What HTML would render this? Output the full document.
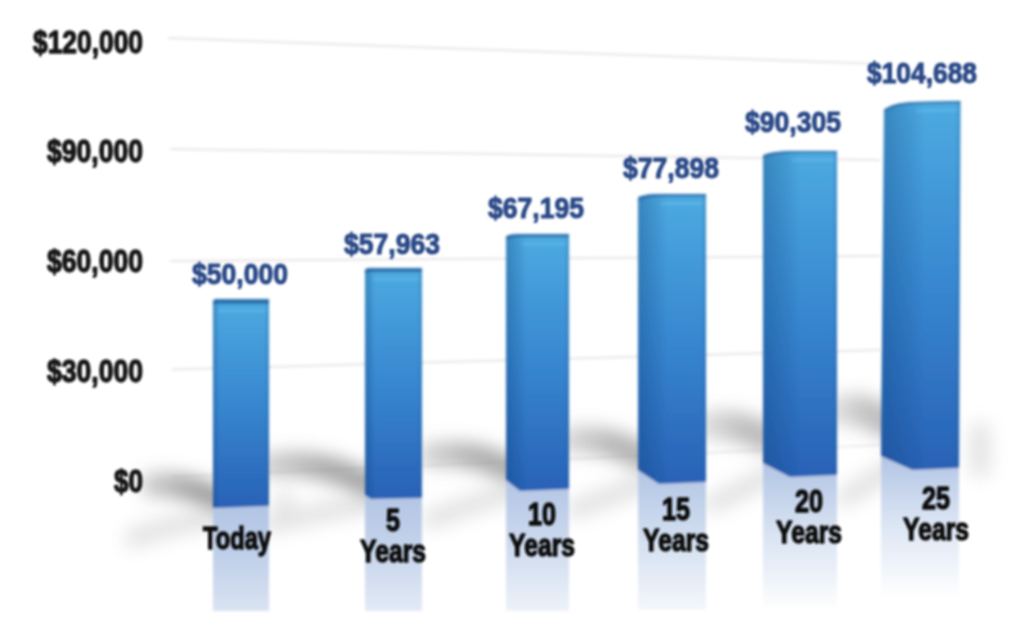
<!DOCTYPE html>
<html><head><meta charset="utf-8"><title>Chart</title>
<style>
html,body{margin:0;padding:0;background:#fff;}
body{width:1012px;height:630px;overflow:hidden;font-family:"Liberation Sans",sans-serif;}
svg{display:block}
text{font-family:"Liberation Sans",sans-serif;font-weight:bold;}
</style></head><body>
<svg width="1012" height="630" viewBox="0 0 1012 630">
<defs>
<filter id="soft" x="-5%" y="-5%" width="110%" height="110%"><feGaussianBlur stdDeviation="1.7"/></filter>
<filter id="tsoft" x="-5%" y="-20%" width="110%" height="140%"><feGaussianBlur stdDeviation="1.3"/></filter>
<filter id="sh" filterUnits="userSpaceOnUse" x="0" y="0" width="1012" height="630"><feGaussianBlur stdDeviation="8.5"/></filter>
<filter id="sh2" filterUnits="userSpaceOnUse" x="0" y="0" width="1012" height="630"><feGaussianBlur stdDeviation="9"/></filter>
<linearGradient id="dk" x1="0" y1="0" x2="1" y2="0"><stop offset="0" stop-color="#777" stop-opacity="0.55"/><stop offset="0.55" stop-color="#777" stop-opacity="0.95"/><stop offset="1" stop-color="#777" stop-opacity="1"/></linearGradient>
<linearGradient id="front" x1="0" y1="0" x2="0" y2="1">
<stop offset="0" stop-color="#4daae0"/><stop offset="0.5" stop-color="#3787d0"/><stop offset="1" stop-color="#2861b5"/></linearGradient>
<linearGradient id="sideov" x1="0" y1="0" x2="1" y2="0">
<stop offset="0" stop-color="#0a3c78" stop-opacity="0.33"/><stop offset="0.7" stop-color="#0a3c78" stop-opacity="0.11"/><stop offset="1" stop-color="#0a3c78" stop-opacity="0"/></linearGradient>
<linearGradient id="refl0" x1="0" y1="0" x2="0" y2="1"><stop offset="0" stop-color="#b2c5e4"/><stop offset="0.5" stop-color="#c0d0e9"/><stop offset="1" stop-color="#d9e3f2"/></linearGradient>
<linearGradient id="refl1" x1="0" y1="0" x2="0" y2="1"><stop offset="0" stop-color="#b2c5e4"/><stop offset="0.5" stop-color="#c6d4eb"/><stop offset="1" stop-color="#e3eaf6"/></linearGradient>
<linearGradient id="refl2" x1="0" y1="0" x2="0" y2="1"><stop offset="0" stop-color="#b2c5e4"/><stop offset="0.5" stop-color="#cddaee"/><stop offset="1" stop-color="#edf2f9"/></linearGradient>
<linearGradient id="refl3" x1="0" y1="0" x2="0" y2="1"><stop offset="0" stop-color="#b2c5e4"/><stop offset="0.5" stop-color="#d3dff0"/><stop offset="1" stop-color="#f4f7fb"/></linearGradient>
<linearGradient id="refl4" x1="0" y1="0" x2="0" y2="1"><stop offset="0" stop-color="#b2c5e4"/><stop offset="0.5" stop-color="#d9e3f2"/><stop offset="1" stop-color="#fcfdfe"/></linearGradient>
<linearGradient id="refl5" x1="0" y1="0" x2="0" y2="1"><stop offset="0" stop-color="#b2c5e4"/><stop offset="0.5" stop-color="#dde6f4"/><stop offset="1" stop-color="#ffffff"/></linearGradient>
</defs>
<rect width="1012" height="630" fill="#ffffff"/>

<g filter="url(#soft)" stroke="#e6e6e6" stroke-width="2" fill="none">
<path d="M168,38 L880,64"/>
<path d="M170,149 L880,160"/>
<path d="M170,261 L880,256"/>
<path d="M172,369.5 L880,350"/>
<path d="M172,477 L880,445" stroke="#ececec"/>
</g>
<g filter="url(#sh)" fill="none" stroke="url(#dk)" stroke-linecap="round">
<path d="M218,499 Q184,483 153,485" stroke-width="25" opacity="0.7"/>
<path d="M370,485 Q322,460 273,465" stroke-width="26" opacity="0.66"/>
<path d="M511,470 Q472,450 432,455" stroke-width="26" opacity="0.62"/>
<path d="M643,457 Q608,438 574,440" stroke-width="28" opacity="0.56"/>
<path d="M766,438 Q740,424 712,425" stroke-width="30" opacity="0.5"/>
<path d="M885,422 Q866,408 843,410" stroke-width="32" opacity="0.48"/>
</g>
<g filter="url(#sh2)" fill="none" stroke="#9a9a9a" stroke-linecap="round" opacity="0.27">
<path d="M218,518 Q180,522 134,538" stroke-width="20"/>
<path d="M370,503 Q322,512 272,523" stroke-width="20"/>
<path d="M511,492 Q472,504 432,519" stroke-width="20"/>
<path d="M643,484 Q610,496 576,509" stroke-width="20"/>
<path d="M768,476 Q742,490 714,503" stroke-width="20"/>
<path d="M888,470 Q868,484 846,497" stroke-width="20"/>
<path d="M980,432 L980,468" stroke-width="20"/>
<path d="M284,500 L284,516" stroke-width="18"/>
</g>
<g filter="url(#soft)">
<polygon points="213,508 216,508 269,506 269,611 213,611" fill="url(#refl0)"/>
<polygon points="365,495 371,499 422,498 422,611 365,611" fill="url(#refl1)"/>
<polygon points="506,480 520,491 569,489 569,611 506,611" fill="url(#refl2)"/>
<polygon points="638,470 659,484 706,482 706,610 638,610" fill="url(#refl3)"/>
<polygon points="763,463 790,477 837,475 837,606 763,606" fill="url(#refl4)"/>
<polygon points="881,456 912.5,470 959,468 959,598 881,598" fill="url(#refl5)"/>
<path d="M213,301.5 Q213,300 214.5,299.7 Q214.05,299.12 216,299 L267.5,299 Q269,299 269,300.5 L269,506 L216,508 L213,508 Z" fill="url(#front)"/>
<path d="M213,301.5 Q213,300 214.5,299.7 Q214.05,299.12 216,299 L218.9,299 L218.9,508 L216,508 L213,508 Z" fill="url(#sideov)"/>
<polygon points="266,299 269,299 269,506 266,506" fill="#1c5a9c" opacity="0.25"/>
<path d="M213,301.5 Q213,300 214.5,299.7 Q214.05,299.12 216,299 L269,299 L269,304 L216,304 Q214.05,304.12 213,306 Z" fill="#22609f" opacity="0.8"/>
<polygon points="218,309.5 266,309.5 266,312.5 218,312.5" fill="#66bdf0" opacity="0.5"/>
<path d="M365,270.5 Q365,269 366.5,268.7 Q367.1,268.12 371,268 L420.5,268 Q422,268 422,269.5 L422,498 L371,499 L365,495 Z" fill="url(#front)"/>
<path d="M365,270.5 Q365,269 366.5,268.7 Q367.1,268.12 371,268 L374.8,268 L374.8,499 L371,499 L365,495 Z" fill="url(#sideov)"/>
<polygon points="419,268 422,268 422,498 419,498" fill="#1c5a9c" opacity="0.25"/>
<path d="M365,270.5 Q365,269 366.5,268.7 Q367.1,268.12 371,268 L422,268 L422,272 L371,272 Q367.1,272.12 365,274 Z" fill="#22609f" opacity="0.8"/>
<polygon points="373,277.5 419,277.5 419,280.5 373,280.5" fill="#66bdf0" opacity="0.5"/>
<path d="M506,237.5 Q506,236 507.5,235.7 Q510.9,234.24 520,234 L567.5,234 Q569,234 569,235.5 L569,489 L520,491 L506,480 Z" fill="url(#front)"/>
<path d="M506,237.5 Q506,236 507.5,235.7 Q510.9,234.24 520,234 L526.2,234 L526.2,491 L520,491 L506,480 Z" fill="url(#sideov)"/>
<polygon points="566,234 569,234 569,489 566,489" fill="#1c5a9c" opacity="0.25"/>
<path d="M506,237.5 Q506,236 507.5,235.7 Q510.9,234.24 520,234 L569,234 L569,237 L520,237 Q510.9,237.24 506,240 Z" fill="#22609f" opacity="0.8"/>
<polygon points="522,242.5 566,242.5 566,245.5 522,245.5" fill="#66bdf0" opacity="0.5"/>
<path d="M638,198.5 Q638,197 639.5,196.7 Q645.35,194.36 659,194 L704.5,194 Q706,194 706,195.5 L706,482 L659,484 L638,470 Z" fill="url(#front)"/>
<path d="M638,198.5 Q638,197 639.5,196.7 Q645.35,194.36 659,194 L667.3,194 L667.3,484 L659,484 L638,470 Z" fill="url(#sideov)"/>
<polygon points="703,194 706,194 706,482 703,482" fill="#1c5a9c" opacity="0.25"/>
<path d="M638,198.5 Q638,197 639.5,196.7 Q645.35,194.36 659,194 L706,194 L706,196.5 L659,196.5 Q645.35,196.86 638,200.5 Z" fill="#22609f" opacity="0.8"/>
<polygon points="661,202.0 703,202.0 703,205.0 661,205.0" fill="#66bdf0" opacity="0.5"/>
<path d="M763,156.5 Q763,155 764.5,154.7 Q772.45,151.48 790,151 L835.5,151 Q837,151 837,152.5 L837,475 L790,477 L763,463 Z" fill="url(#front)"/>
<path d="M763,156.5 Q763,155 764.5,154.7 Q772.45,151.48 790,151 L800.1,151 L800.1,477 L790,477 L763,463 Z" fill="url(#sideov)"/>
<polygon points="834,151 837,151 837,475 834,475" fill="#1c5a9c" opacity="0.25"/>
<path d="M763,156.5 Q763,155 764.5,154.7 Q772.45,151.48 790,151 L837,151 L837,153 L790,153 Q772.45,153.48 763,158 Z" fill="#22609f" opacity="0.8"/>
<polygon points="792,158.5 834,158.5 834,161.5 792,161.5" fill="#66bdf0" opacity="0.5"/>
<path d="M884,110.5 Q884,109 885.5,108.7 Q894.5,102.84 914,102 L959.0,101 Q960.5,101 960.5,102.5 L959,468 L912.5,470 L881,456 Z" fill="url(#front)"/>
<path d="M884,110.5 Q884,109 885.5,108.7 Q894.5,102.84 914,102 L925.0,102 L923.5,470 L912.5,470 L881,456 Z" fill="url(#sideov)"/>
<polygon points="957.5,101 960.5,101 959,468 956,468" fill="#1c5a9c" opacity="0.25"/>
<path d="M884,110.5 Q884,109 885.5,108.7 Q894.5,102.84 914,102 L960.5,101 L960.5,103 L914,104 Q894.5,104.84 884,112 Z" fill="#22609f" opacity="0.8"/>
<polygon points="916,109.5 957.5,108.5 957.5,111.5 916,112.5" fill="#66bdf0" opacity="0.5"/>
</g>
<g filter="url(#tsoft)">
<text x="143" y="52.5" font-size="31.5" text-anchor="end" fill="#141414" stroke="#141414" stroke-width="1.3" stroke-linejoin="round" textLength="110" lengthAdjust="spacingAndGlyphs">$120,000</text>
<text x="143" y="161.5" font-size="31.5" text-anchor="end" fill="#141414" stroke="#141414" stroke-width="1.3" stroke-linejoin="round" textLength="96" lengthAdjust="spacingAndGlyphs">$90,000</text>
<text x="143" y="271.5" font-size="31.5" text-anchor="end" fill="#141414" stroke="#141414" stroke-width="1.3" stroke-linejoin="round" textLength="96" lengthAdjust="spacingAndGlyphs">$60,000</text>
<text x="143" y="381.5" font-size="31.5" text-anchor="end" fill="#141414" stroke="#141414" stroke-width="1.3" stroke-linejoin="round" textLength="96" lengthAdjust="spacingAndGlyphs">$30,000</text>
<text x="143" y="491.5" font-size="31.5" text-anchor="end" fill="#141414" stroke="#141414" stroke-width="1.3" stroke-linejoin="round" textLength="29" lengthAdjust="spacingAndGlyphs">$0</text>
<text x="240" y="283.5" font-size="30" text-anchor="middle" fill="#2b4a88" stroke="#2b4a88" stroke-width="1.05" stroke-linejoin="round" textLength="96" lengthAdjust="spacingAndGlyphs">$50,000</text>
<text x="392" y="253.5" font-size="30" text-anchor="middle" fill="#2b4a88" stroke="#2b4a88" stroke-width="1.05" stroke-linejoin="round" textLength="96" lengthAdjust="spacingAndGlyphs">$57,963</text>
<text x="536" y="217.5" font-size="30" text-anchor="middle" fill="#2b4a88" stroke="#2b4a88" stroke-width="1.05" stroke-linejoin="round" textLength="96" lengthAdjust="spacingAndGlyphs">$67,195</text>
<text x="671" y="178.0" font-size="30" text-anchor="middle" fill="#2b4a88" stroke="#2b4a88" stroke-width="1.05" stroke-linejoin="round" textLength="96" lengthAdjust="spacingAndGlyphs">$77,898</text>
<text x="793" y="131.5" font-size="30" text-anchor="middle" fill="#2b4a88" stroke="#2b4a88" stroke-width="1.05" stroke-linejoin="round" textLength="96" lengthAdjust="spacingAndGlyphs">$90,305</text>
<text x="922" y="82.5" font-size="30" text-anchor="middle" fill="#2b4a88" stroke="#2b4a88" stroke-width="1.05" stroke-linejoin="round" textLength="110" lengthAdjust="spacingAndGlyphs">$104,688</text>
<text x="237" y="548.5" font-size="32" text-anchor="middle" fill="#111111" stroke="#111111" stroke-width="1.4" stroke-linejoin="round" textLength="68" lengthAdjust="spacingAndGlyphs">Today</text>
<text x="393" y="530.5" font-size="32" text-anchor="middle" fill="#111111" stroke="#111111" stroke-width="1.4" stroke-linejoin="round" textLength="14" lengthAdjust="spacingAndGlyphs">5</text>
<text x="393" y="562" font-size="32" text-anchor="middle" fill="#111111" stroke="#111111" stroke-width="1.4" stroke-linejoin="round" textLength="66" lengthAdjust="spacingAndGlyphs">Years</text>
<text x="542" y="524.5" font-size="32" text-anchor="middle" fill="#111111" stroke="#111111" stroke-width="1.4" stroke-linejoin="round" textLength="28" lengthAdjust="spacingAndGlyphs">10</text>
<text x="542" y="556" font-size="32" text-anchor="middle" fill="#111111" stroke="#111111" stroke-width="1.4" stroke-linejoin="round" textLength="66" lengthAdjust="spacingAndGlyphs">Years</text>
<text x="676" y="519.5" font-size="32" text-anchor="middle" fill="#111111" stroke="#111111" stroke-width="1.4" stroke-linejoin="round" textLength="28" lengthAdjust="spacingAndGlyphs">15</text>
<text x="676" y="551" font-size="32" text-anchor="middle" fill="#111111" stroke="#111111" stroke-width="1.4" stroke-linejoin="round" textLength="66" lengthAdjust="spacingAndGlyphs">Years</text>
<text x="809" y="511.5" font-size="32" text-anchor="middle" fill="#111111" stroke="#111111" stroke-width="1.4" stroke-linejoin="round" textLength="28" lengthAdjust="spacingAndGlyphs">20</text>
<text x="809" y="543" font-size="32" text-anchor="middle" fill="#111111" stroke="#111111" stroke-width="1.4" stroke-linejoin="round" textLength="66" lengthAdjust="spacingAndGlyphs">Years</text>
<text x="936" y="508.5" font-size="32" text-anchor="middle" fill="#111111" stroke="#111111" stroke-width="1.4" stroke-linejoin="round" textLength="28" lengthAdjust="spacingAndGlyphs">25</text>
<text x="936" y="540" font-size="32" text-anchor="middle" fill="#111111" stroke="#111111" stroke-width="1.4" stroke-linejoin="round" textLength="66" lengthAdjust="spacingAndGlyphs">Years</text>
</g>
</svg></body></html>
